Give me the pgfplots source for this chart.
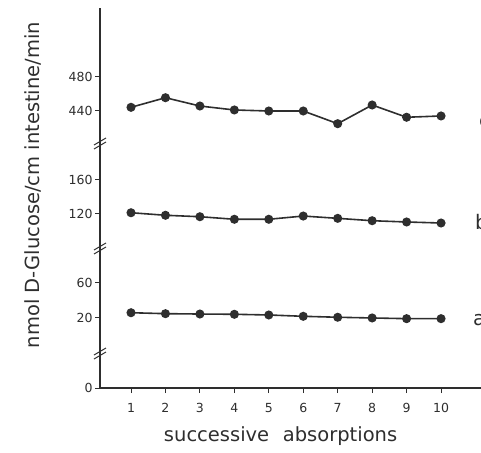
\documentclass[border=0pt]{standalone}
\usepackage{fontspec}
\setmainfont{DejaVu Sans}
\usepackage{pgfplots}
\usepackage{pgfplotstable}
\pgfplotsset{compat=1.18}
\definecolor{ink}{HTML}{2E2E2E}

% series c (top segment)
\pgfplotstableread{
n v
1 444.3
2 455.5
3 445.8
4 441.2
5 440.0
6 440.0
7 425.2
8 447.0
9 432.7
10 434.2
}\seriesc
% series b (middle segment)
\pgfplotstableread{
n v
1 121.5
2 118.5
3 116.8
4 113.8
5 113.8
6 117.6
7 114.9
8 112.1
9 110.6
10 109.4
}\seriesb
% series a (bottom segment)
\pgfplotstableread{
n v
1 25.7
2 24.6
3 24.2
4 23.9
5 23.1
6 21.6
7 20.5
8 19.7
9 18.9
10 18.9
}\seriesa

\begin{document}
\begin{tikzpicture}
\begin{axis}[
  at={(0pt,0pt)}, anchor=south west,
  scale only axis, width=381pt, height=380pt,
  xmin=0.1, xmax=11.16, ymin=0, ymax=380,
  axis x line=bottom, axis y line=left,
  axis line style={-, ink, line width=1.3pt},
  xtick={1,...,10},
  ytick={0,70.3,105.3,174,208,277,311.3},
  yticklabels={0,20,60,120,160,440,480},
  tick align=outside, major tick length=5pt,
  tick style={ink, line width=1pt},
  tick label style={font=\fontsize{12.5}{14}\selectfont, text=ink},
  /pgf/number format/assume math mode=true,
  yticklabel style={xshift=1pt},
  xticklabel style={yshift=-7pt},
  xlabel={successive\hspace{0.7em}absorptions},
  xlabel style={at={(axis description cs:0.474,-0.142)}, anchor=base, font=\fontsize{19.5}{22}\selectfont, text=ink},
  ylabel={nmol D-Glucose/cm intestine/min},
  ylabel style={at={(axis description cs:-0.176,0.534)}, anchor=center, font=\fontsize{19.5}{22}\selectfont, text=ink},
  clip=false,
]
\addplot[ink, line width=1.6pt, mark=*, mark size=3.7pt, mark options={solid, fill=ink}]
  table[x=n, y expr={277+(\thisrow{v}-440)*0.8575}] {\seriesc};
\addplot[ink, line width=1.6pt, mark=*, mark size=3.7pt, mark options={solid, fill=ink}]
  table[x=n, y expr={174+(\thisrow{v}-120)*0.85}] {\seriesb};
\addplot[ink, line width=1.6pt, mark=*, mark size=3.7pt, mark options={solid, fill=ink}]
  table[x=n, y expr={70.3+(\thisrow{v}-20)*0.875}] {\seriesa};
% axis break marks
\draw[ink, line width=1pt] ([shift={(-6pt,-6pt)}]axis cs:0.1,245) -- ++(12pt,7pt);
\draw[ink, line width=1pt] ([shift={(-6pt,-2pt)}]axis cs:0.1,245) -- ++(12pt,7pt);
\draw[ink, line width=1pt] ([shift={(-6pt,-6pt)}]axis cs:0.1,140) -- ++(12pt,7pt);
\draw[ink, line width=1pt] ([shift={(-6pt,-2pt)}]axis cs:0.1,140) -- ++(12pt,7pt);
\draw[ink, line width=1pt] ([shift={(-6pt,-6pt)}]axis cs:0.1,35) -- ++(12pt,7pt);
\draw[ink, line width=1pt] ([shift={(-6pt,-2pt)}]axis cs:0.1,35) -- ++(12pt,7pt);
\end{axis}
\node[anchor=base west, inner sep=0pt, font=\fontsize{20}{24}\selectfont, text=ink] at (379pt,260pt) {c};
\node[anchor=base west, inner sep=0pt, font=\fontsize{20}{24}\selectfont, text=ink] at (375pt,158pt) {b};
\node[anchor=base west, inner sep=0pt, font=\fontsize{20}{24}\selectfont, text=ink] at (373pt,63pt) {a};
\pgfresetboundingbox
\path[use as bounding box] (-100pt,-64pt) rectangle (381pt,388pt);
\end{tikzpicture}
\end{document}
